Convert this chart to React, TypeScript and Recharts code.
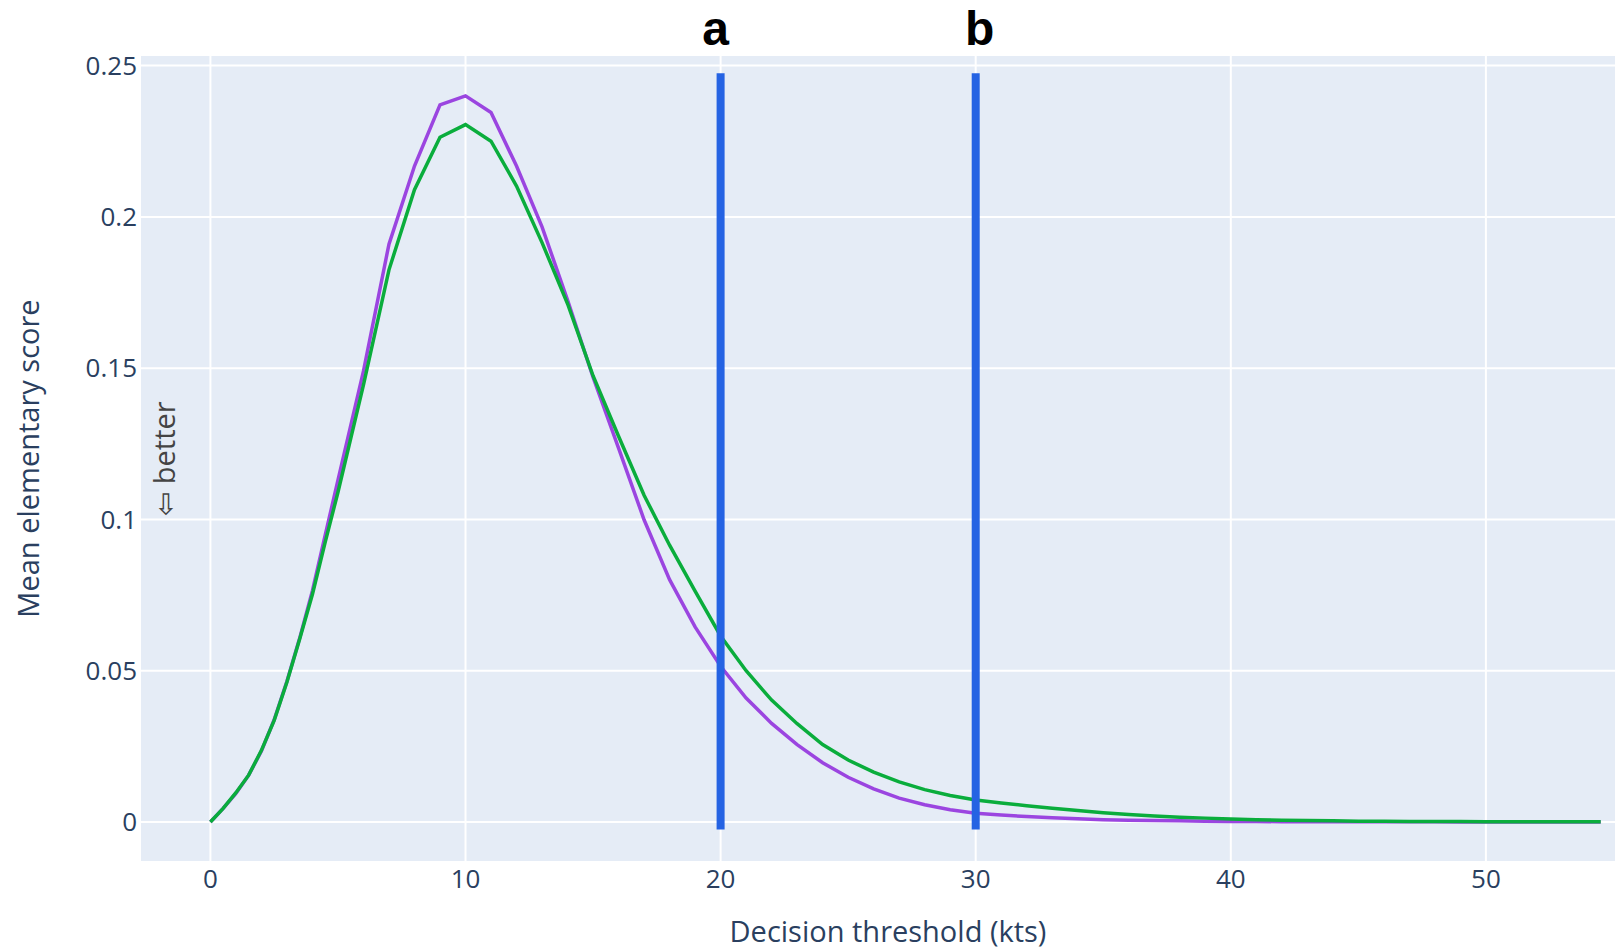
import React from "react";
import {
  LineChart,
  Line,
  XAxis,
  YAxis,
  CartesianGrid,
  ReferenceLine,
  Label,
} from "recharts";

// decision thresholds (kts)
const thresholds = [
  0, 0.5, 1, 1.5, 2, 2.5, 3, 3.5, 4, 4.5, 5, 6, 7, 8, 9, 10, 11, 12, 13, 14,
  15, 16, 17, 18, 19, 20, 21, 22, 23, 24, 25, 26, 27, 28, 29, 30, 31, 32, 33,
  34, 35, 36, 37, 38, 39, 40, 41, 42, 43, 44, 45, 46, 47, 48, 49, 50, 51, 52,
  53, 54, 54.5,
];

// mean elementary score, purple forecast
const scorePurple = [
  0, 0.0045, 0.0095, 0.0155, 0.0235, 0.0338, 0.0465, 0.0608, 0.0765, 0.0948,
  0.113, 0.149, 0.191, 0.2168, 0.237, 0.24, 0.2345, 0.2168, 0.1967, 0.1725,
  0.147, 0.1236, 0.0999, 0.0801, 0.0645, 0.0515, 0.041, 0.0326, 0.0256, 0.0196,
  0.0148, 0.011, 0.0079, 0.0057, 0.0041, 0.0029, 0.0023, 0.0018, 0.0014,
  0.0011, 0.0008, 0.0006, 0.0005, 0.0004, 0.0003, 0.0002, 0.0002, 0.0001,
  0.0001, 0.0001, 0.0001, 0.0001, 0.0001, 0.0001, 0, 0, 0, 0, 0, 0, 0,
];

// mean elementary score, green forecast
const scoreGreen = [
  0, 0.0045, 0.0097, 0.0155, 0.0237, 0.0336, 0.0463, 0.0605, 0.0753, 0.0925,
  0.109, 0.1445, 0.1825, 0.209, 0.2263, 0.2305, 0.225, 0.2102, 0.1915, 0.1713,
  0.1475, 0.1275, 0.108, 0.0915, 0.0763, 0.0615, 0.05, 0.0403, 0.0325, 0.0256,
  0.0205, 0.0165, 0.0133, 0.0107, 0.0088, 0.0073, 0.0063, 0.0054, 0.0046,
  0.0038, 0.0031, 0.0025, 0.002, 0.0016, 0.0013, 0.001, 0.0008, 0.0006, 0.0005,
  0.0004, 0.0003, 0.0003, 0.0002, 0.0002, 0.0002, 0.0001, 0.0001, 0.0001,
  0.0001, 0.0001, 0.0001,
];

const xTicks = [0, 10, 20, 30, 40, 50];
const yTicks = [0, 0.05, 0.1, 0.15, 0.2, 0.25];

// vertical marker lines
const markerNames = ["a", "b"];
const markerX = [20, 30];
const markerSpan = [-0.0025, 0.2475];

const data = thresholds.map((t, i) => ({
  t,
  purple: scorePurple[i],
  green: scoreGreen[i],
}));

const FONT = '"Open Sans", verdana, arial, sans-serif';
const TEXT = "#2a3f5f";

function YTitle({ viewBox }: any) {
  const cy = viewBox.y + viewBox.height / 2;
  return (
    <g>
      <text
        transform={`translate(${viewBox.x + 39}, ${cy}) rotate(-90)`}
        textAnchor="middle"
        fill={TEXT}
        fontSize={29}
        fontFamily={FONT}
      >
        Mean elementary score
      </text>
      <text
        transform={`translate(${viewBox.x + 175}, ${cy}) rotate(-90)`}
        textAnchor="middle"
        fill="#444"
        fontSize={29}
        fontFamily={FONT}
      >
        ⇦ better
      </text>
    </g>
  );
}

function XTitle({ viewBox }: any) {
  return (
    <text
      x={viewBox.x + viewBox.width / 2 + 10}
      y={viewBox.y + 80}
      textAnchor="middle"
      fill={TEXT}
      fontSize={29}
      fontFamily={FONT}
    >
      Decision threshold (kts)
    </text>
  );
}

function MarkerLabel({ viewBox, value, shift }: any) {
  return (
    <text
      x={viewBox.x + shift}
      y={viewBox.y - 28}
      textAnchor="middle"
      fill="#000"
      fontSize={48}
      fontWeight={700}
      fontFamily='"Liberation Sans", Arial, sans-serif'
    >
      {value}
    </text>
  );
}

export default function App() {
  return (
    <div style={{ position: "absolute", left: 0, top: 0 }}>
      <LineChart
        width={1616}
        height={951}
        data={data}
        margin={{ top: 55, right: 0, bottom: 0, left: 0 }}
      >
        <CartesianGrid fill="#E5ECF6" fillOpacity={1} stroke="#ffffff" strokeWidth={2} />
        <XAxis
          dataKey="t"
          type="number"
          domain={[-2.76, 55.1]}
          ticks={xTicks}
          interval={0}
          allowDataOverflow
          height={89}
          axisLine={false}
          tickLine={false}
          tickSize={0}
          tickMargin={8}
          tick={{ fill: TEXT, fontSize: 26, fontFamily: FONT }}
        >
          <Label content={<XTitle />} />
        </XAxis>
        <YAxis
          type="number"
          domain={[-0.0132, 0.2535]}
          ticks={yTicks}
          interval={0}
          allowDataOverflow
          width={140}
          axisLine={false}
          tickLine={false}
          tickSize={0}
          tickMargin={3}
          tick={{ fill: TEXT, fontSize: 26, fontFamily: FONT }}
        >
          <Label content={<YTitle />} />
        </YAxis>
        <Line
          type="linear"
          dataKey="purple"
          stroke="#9b45e0"
          strokeWidth={3.5}
          dot={false}
          activeDot={false}
          isAnimationActive={false}
        />
        <Line
          type="linear"
          dataKey="green"
          stroke="#0aad3c"
          strokeWidth={3.5}
          dot={false}
          activeDot={false}
          isAnimationActive={false}
        />
        {markerX.map((x, i) => (
          <ReferenceLine
            key={markerNames[i]}
            segment={[
              { x, y: markerSpan[0] },
              { x, y: markerSpan[1] },
            ]}
            stroke="#2563e3"
            strokeWidth={8}
            zIndex={450}
            label={
              <MarkerLabel value={markerNames[i]} shift={i === 0 ? -5 : 4} />
            }
          />
        ))}
      </LineChart>
    </div>
  );
}
